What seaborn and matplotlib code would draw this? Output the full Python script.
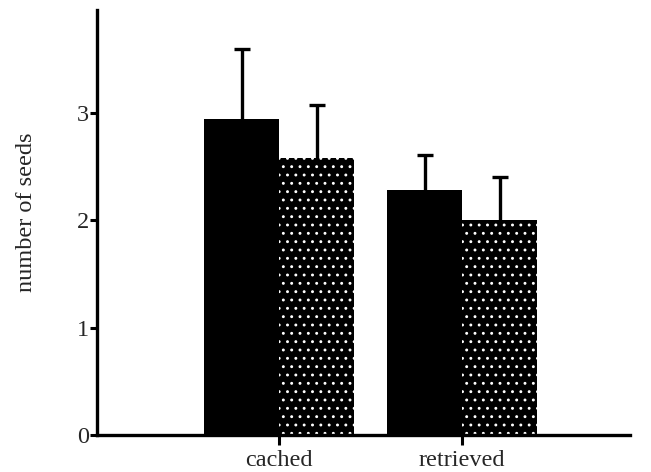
import matplotlib
matplotlib.use("Agg")
import matplotlib.pyplot as plt
import seaborn as sns
import pandas as pd

categories = ["cached", "retrieved"]
groups = ["solid", "dotted"]
means_solid = [2.94, 2.28]
means_dotted = [2.58, 2.00]
err_solid = [0.66, 0.33]
err_dotted = [0.49, 0.40]

df = pd.DataFrame({
    "category": categories * 2,
    "group": [groups[0]] * 2 + [groups[1]] * 2,
    "value": means_solid + means_dotted,
    "err": err_solid + err_dotted,
})

sns.set_style("ticks")
plt.rcParams["font.family"] = ["Liberation Serif", "DejaVu Serif"]
plt.rcParams["hatch.linewidth"] = 0.9

fig = plt.figure(figsize=(6.51, 4.72), dpi=100)
ax = fig.add_axes([0.149, 0.078, 0.819, 0.901])

sns.barplot(data=df, x="category", y="value", hue="group",
            order=categories, hue_order=groups,
            palette=["black", "black"], width=0.82, saturation=1,
            errorbar=None, legend=False, ax=ax)

# style bars and add one-sided error bars
for container, grp in zip(ax.containers, groups):
    sub = df[df["group"] == grp].set_index("category").loc[categories]
    for patch, (_, row) in zip(container, sub.iterrows()):
        patch.set_linewidth(0)
        if grp == "dotted":
            patch.set_edgecolor("white")
            patch.set_hatch("..")
        cx = patch.get_x() + patch.get_width() / 2
        _, caps, _ = ax.errorbar(cx, row["value"], yerr=[[0], [row["err"]]],
                                 fmt="none", ecolor="black", elinewidth=2.4,
                                 capsize=5.5, capthick=2.4, zorder=3)
        for c in caps:
            if abs(c.get_ydata()[0] - row["value"]) < 1e-9:
                c.set_visible(False)

ax.set_ylim(0, 3.96)
ax.set_xlim(-0.995, 1.918)
ax.set_yticks([0, 1, 2, 3])
ax.set_xlabel("")
ax.set_ylabel("number of seeds", fontsize=17.5)
ax.yaxis.set_label_coords(-0.113, 0.525)
ax.tick_params(axis="both", labelsize=17.5, width=2.2, color="black")
ax.tick_params(axis="y", length=5, pad=1)
ax.tick_params(axis="x", length=7, pad=4)
sns.despine(ax=ax)
for s in ["left", "bottom"]:
    ax.spines[s].set_linewidth(2.4)
    ax.spines[s].set_color("black")

fig.savefig("out.png", dpi=100)
